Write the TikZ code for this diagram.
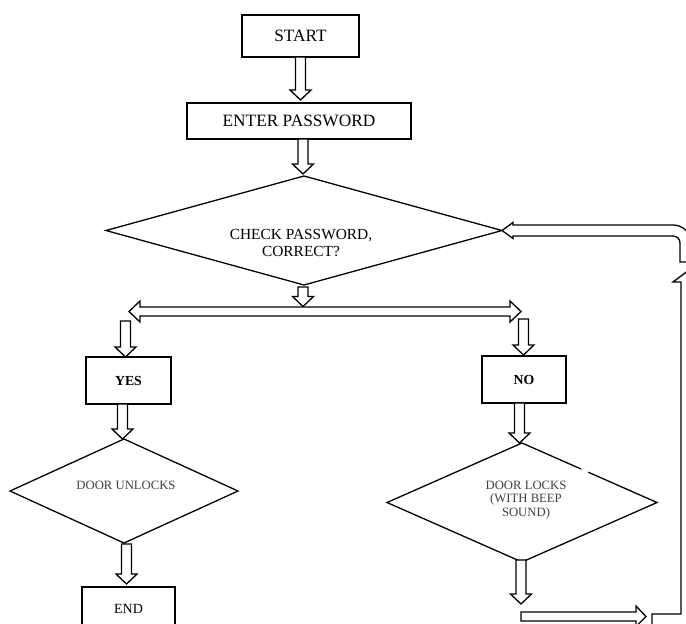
\documentclass[tikz,border=0pt]{standalone}
\usepackage{fontspec}
\setmainfont{Liberation Serif}
\usetikzlibrary{calc,shapes.geometric}
\tikzset{
 box/.style={draw, line width=1.3pt, rectangle, inner sep=0pt, outer sep=0pt, align=center},
 dia/.style={draw, line width=1.3pt, diamond, inner sep=0pt, outer sep=0pt},
 blk/.style={draw, line width=1.3pt, fill=white, line join=miter},
 big/.style={font=\fontsize{17.3}{20}\selectfont},
 mid/.style={font=\fontsize{15.4}{17}\selectfont, align=center},
 sml/.style={font=\fontsize{12.7}{13.5}\selectfont, text=black!75, align=center},
 bld/.style={font=\fontsize{13.8}{16}\selectfont\bfseries},
 nrm/.style={font=\fontsize{14}{16}\selectfont},
}
\newcommand\dnarr[2]{\draw[blk] let \p1=#1, \p2=#2 in
  (\x1-5pt,\y1) -- (\x1-5pt,\y2+10pt) -- (\x1-10.5pt,\y2+10pt) -- (\x1,\y2)
  -- (\x1+10.5pt,\y2+10pt) -- (\x1+5pt,\y2+10pt) -- (\x1+5pt,\y1) -- cycle;}
\begin{document}
\begin{tikzpicture}[x=1pt,y=-1pt]
\useasboundingbox (0,0) rectangle (686,624);
\clip (0,0) rectangle (686,624);
% nodes
\node[box,big,minimum width=117pt,minimum height=42pt] (start) at (300.5,36) {START};
\node[box,big,minimum width=224pt,minimum height=36pt] (enter) at (299,121) {ENTER PASSWORD};
\node[dia,minimum width=396pt,minimum height=109pt] (check) at (304,230.5) {};
\node[mid] (checkt) at (301,243) {CHECK PASSWORD,\\CORRECT?};
\node[box,bld,minimum width=85pt,minimum height=47pt] (yes) at (128.5,380.5) {YES};
\node[box,bld,minimum width=84pt,minimum height=47pt] (no) at (524,379.5) {NO};
\node[dia,minimum width=228pt,minimum height=104pt] (dul) at (124,491) {};
\node[sml] (dult) at (126,485.5) {DOOR UNLOCKS};
\node[dia,minimum width=270pt,minimum height=119pt] (dlk) at (522,502.5) {};
\node[sml] (dlkt) at (526,500) {DOOR LOCKS\\(WITH BEEP\\SOUND)};
\node[box,nrm,minimum width=93pt,minimum height=44pt] (end) at (128.5,609) {END};
% small gap in the edge of the lock diamond
\draw[white,line width=2.8pt] ($(dlk.north)!0.44!(dlk.east)$) -- ($(dlk.north)!0.49!(dlk.east)$);
% coordinates
\coordinate (dl) at (129,311.5);
\coordinate (dr) at (521,311.5);
\coordinate (hs) at (521,616.5);
\coordinate (ht) at (646,616.5);
% down arrows
\dnarr{(start.south)}{($(enter.north)+(0,-3)$)}
\dnarr{($(enter.south)+(4,0)$)}{($(check.north)+(0,-2)$)}
\dnarr{($(check.south)+(-1,2)$)}{($(check.south|-dl)+(-1,-5)$)}
% double arrow
\draw[blk] (dl) -- ++(11,-10.5) -- ++(0,6) -- ($(dr)+(-11,-4.5)$) -- ++(0,-6) -- (dr)
  -- ++(-11,10.5) -- ++(0,-6) -- ($(dl)+(11,4.5)$) -- ++(0,6) -- cycle;
\dnarr{($(dl)+(-3.5,9.5)$)}{(yes.north)}
\dnarr{($(dr)+(2.5,7.5)$)}{($(no.north)+(0,-1)$)}
\dnarr{($(yes.south)+(-6,0)$)}{(dul.north)}
\dnarr{($(dul.south)+(2.5,1)$)}{($(end.north)+(0,-3)$)}
\dnarr{($(no.south)+(-4.5,0)$)}{(dlk.north)}
\dnarr{($(dlk.south)+(-1,-2)$)}{($(hs)+(0,-12.5)$)}
% horizontal arrow at bottom right
\draw[blk] ($(hs)+(0,-4.5)$) -- ($(ht)+(-10,-4.5)$) -- ($(ht)+(-10,-10.5)$) -- (ht)
  -- ($(ht)+(-10,10)$) -- ($(ht)+(-10,4.5)$) -- ($(hs)+(0,4.5)$) -- cycle;
% return loop
\draw[blk] (680,262) -- (680,243) .. controls (680,239) and (677,236) .. (673,236)
  -- ($(check.east)+(11,5.5)$) -- ($(check.east)+(11,8)$) -- (check.east)
  -- ($(check.east)+(11,-8)$) -- ($(check.east)+(11,-5.5)$) -- (673,225)
  .. controls (683,225) and (691,233) .. (691,243) -- (691,262) -- cycle;
\draw[line width=1.3pt, line join=miter] (652,632) -- (652,614) -- (681,614) -- (681,282) -- (673,282) -- (705,258);
\end{tikzpicture}
\end{document}
